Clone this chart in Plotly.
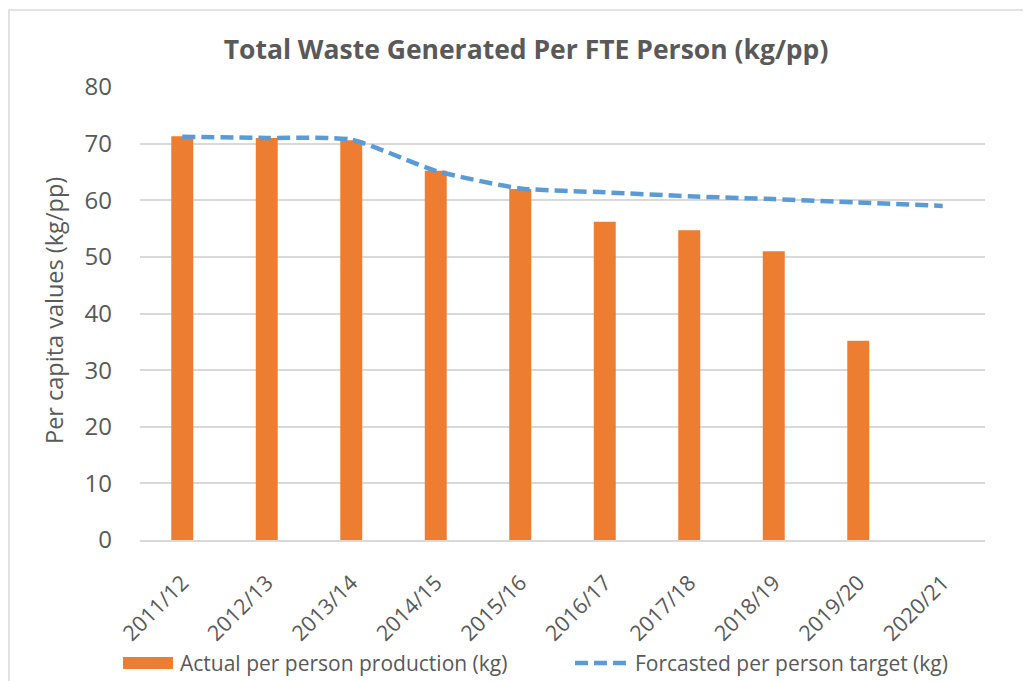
import plotly.graph_objects as go

categories = ["2011/12", "2012/13", "2013/14", "2014/15", "2015/16",
              "2016/17", "2017/18", "2018/19", "2019/20", "2020/21"]
actual = [71.3, 71.0, 70.6, 65.2, 62.0, 56.2, 54.7, 51.0, 35.2, None]
forecast = [71.2, 71.0, 70.7, 65.2, 62.1, 61.4, 60.7, 60.2, 59.6, 59.0]

name_actual = "Actual per person production (kg)"
name_forecast = "Forcasted per person target (kg)"

FONT = "Open Sans"
GREY = "#595959"
ORANGE = "#ED7D31"
BLUE = "#5B9BD5"
GRID = "#D9D9D9"

# page body has an 8px default margin; work in screen pixels and offset
OFF = 8
SW, SH = 1031, 681
W, H = SW - OFF, SH - OFF
L, R, T, B = 140 - OFF, SW - 985, 87 - OFF, SH - 540
pw, ph = W - L - R, H - T - B


def px(x):
    return (x - OFF - L) / pw


def py(y):
    return (H - B - (y - OFF)) / ph


fig = go.Figure()
fig.add_trace(go.Bar(
    x=categories, y=actual, name=name_actual,
    marker=dict(color=ORANGE, line=dict(width=0)), showlegend=False,
))
fig.add_trace(go.Scatter(
    x=categories, y=forecast, name=name_forecast, showlegend=False,
    mode="lines", line=dict(color=BLUE, width=4.5, dash="13px,6px", shape="spline", smoothing=0.6),
))

fig.update_layout(
    width=W, height=H,
    margin=dict(l=L, r=R, t=T, b=B, autoexpand=False),
    paper_bgcolor="white", plot_bgcolor="white",
    bargap=0.74,
    font=dict(family=FONT, color=GREY),
    title=dict(text="<b>Total Waste Generated Per FTE Person (kg/pp)</b>",
               x=((222 + 830) / 2 - OFF) / W, xanchor="center", y=1 - (50 - OFF) / H, yanchor="middle",
               font=dict(size=26.5, color=GREY, family=FONT)),
    yaxis=dict(range=[0, 80], dtick=10, showgrid=True, gridcolor=GRID, gridwidth=1.5,
               zeroline=False, showline=False, ticks="", ticklen=0, automargin=False,
               ticklabelstandoff=27,
               tickfont=dict(size=24, color=GREY)),
    xaxis=dict(showgrid=False, showline=True, linecolor=GRID, linewidth=1.5, automargin=False,
               tickangle=-45, tickfont=dict(size=21.5, color=GREY), ticks="",
               ticklabelstandoff=20),
    showlegend=False,
)

# y axis title
fig.add_annotation(text="Per capita values (kg/pp)", xref="paper", yref="paper",
                   x=px(54), y=py(311), textangle=-90, showarrow=False,
                   xanchor="center", yanchor="middle",
                   font=dict(size=23.5, color=GREY, family=FONT))

# chart border
fig.add_shape(type="rect", xref="paper", yref="paper",
              x0=px(9), x1=px(1045), y0=py(695), y1=py(10),
              line=dict(color=GRID, width=1.5), fillcolor="rgba(0,0,0,0)", layer="below")

# legend (drawn manually to mimic the source legend keys)
ly = 663
fig.add_shape(type="rect", xref="paper", yref="paper",
              x0=px(123), x1=px(173), y0=py(669), y1=py(657),
              line=dict(width=0), fillcolor=ORANGE)
fig.add_annotation(text=name_actual, xref="paper", yref="paper",
                   x=px(178), y=py(ly), showarrow=False, xanchor="left", yanchor="middle",
                   font=dict(size=21, color=GREY, family=FONT))
fig.add_shape(type="line", xref="paper", yref="paper",
              x0=px(575), x1=px(628), y0=py(ly), y1=py(ly),
              line=dict(color=BLUE, width=4.5, dash="13px,6px"))
fig.add_annotation(text=name_forecast, xref="paper", yref="paper",
                   x=px(633), y=py(ly), showarrow=False, xanchor="left", yanchor="middle",
                   font=dict(size=21, color=GREY, family=FONT))

fig.write_html("out.html")
